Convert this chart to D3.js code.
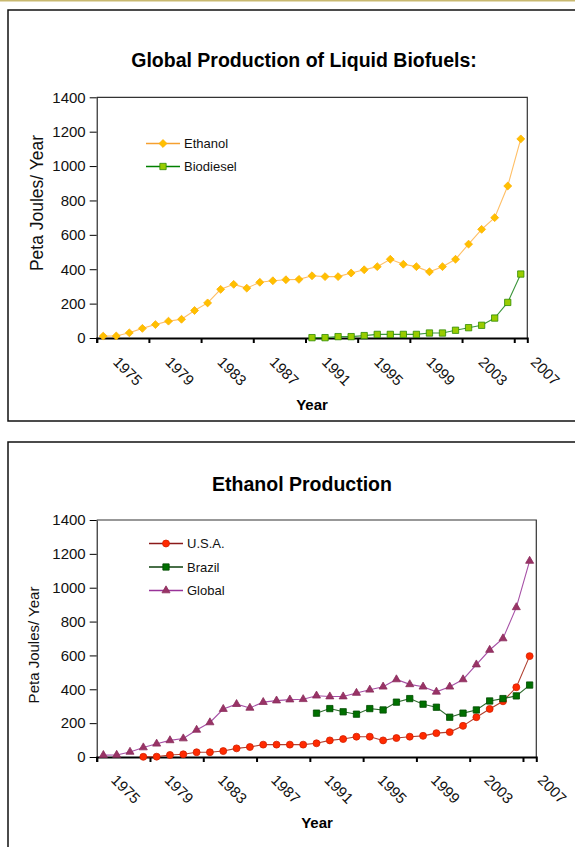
<!DOCTYPE html>
<html>
<head>
<meta charset="utf-8">
<script src="https://cdn.jsdelivr.net/npm/d3@7"></script>
<style>
  body { margin: 0; background: #fff; }
  text { font-family: "Liberation Sans", Arial, sans-serif; }
</style>
</head>
<body>
<div id="chart"></div>
<script>
// Plot constants
const WIDTH = 575;
const HEIGHT = 847;

// Data (Peta Joules / Year)
const years = [1975, 1976, 1977, 1978, 1979, 1980, 1981, 1982, 1983, 1984, 1985,
  1986, 1987, 1988, 1989, 1990, 1991, 1992, 1993, 1994, 1995, 1996, 1997, 1998,
  1999, 2000, 2001, 2002, 2003, 2004, 2005, 2006, 2007];
const yearLabels = [1975, 1979, 1983, 1987, 1991, 1995, 1999, 2003, 2007];
const yTicks = [0, 200, 400, 600, 800, 1000, 1200, 1400];

const ethanol = [11, 12, 30, 56, 78, 98, 109, 160, 204, 283, 312, 290, 324, 333,
  339, 341, 362, 357, 357, 378, 397, 415, 458, 429, 415, 385, 415, 458, 546, 632,
  700, 884, 1158];

const biodieselStart = 1991;
const biodiesel = [2, 2, 8, 8, 14, 21, 21, 21, 21, 29, 29, 45, 60, 74, 116, 207, 372];

const usaStart = 1978;
const usa = [1, 2, 12, 16, 28, 28, 35, 51, 59, 73, 73, 73, 73, 81, 98, 106, 120,
  120, 98, 112, 120, 125, 141, 147, 184, 235, 284, 329, 412, 596];

const brazilStart = 1991;
const brazil = [259, 286, 267, 253, 286, 278, 324, 345, 312, 294, 235, 259, 278,
  331, 345, 361, 425];

const svg = d3.select("#chart")
  .append("svg")
  .attr("width", WIDTH)
  .attr("height", HEIGHT);

// thin tan rule at the very top of the page
svg.append("rect")
  .attr("x", 0).attr("y", 0)
  .attr("width", WIDTH).attr("height", 1.5)
  .attr("fill", "#c9b970");

function drawPanel(cfg) {
  const g = svg.append("g");

  // outer frame (runs off the page on the right)
  g.append("rect")
    .attr("x", 8).attr("y", cfg.frameTop)
    .attr("width", 700).attr("height", cfg.frameH)
    .attr("fill", "none")
    .attr("stroke", "#111")
    .attr("stroke-width", 1.5);

  g.append("text")
    .attr("x", cfg.titleX).attr("y", cfg.titleY)
    .attr("text-anchor", "middle")
    .attr("font-size", "19.5px")
    .attr("font-weight", "bold")
    .text(cfg.title);

  const x = d3.scaleBand().domain(years).range([cfg.left, cfg.right]);
  const xEdge = d3.scaleLinear()
    .domain([years[0] - 0.5, years[years.length - 1] + 0.5])
    .range([cfg.left, cfg.right]);
  const y = d3.scaleLinear().domain([0, 1400]).range([cfg.bottom, cfg.top]);
  const cx = yr => x(yr) + x.bandwidth() / 2;

  // plot box (top and right)
  g.append("path")
    .attr("d", `M${cfg.left},${cfg.top}H${cfg.right}V${cfg.bottom}`)
    .attr("fill", "none")
    .attr("stroke", "#333")
    .attr("stroke-width", 1.2);

  // y axis
  const yAxis = g.append("g")
    .attr("transform", `translate(${cfg.left},0)`)
    .call(d3.axisLeft(y)
      .tickValues(yTicks)
      .tickFormat(d3.format("d"))
      .tickSize(7)
      .tickPadding(4)
      .tickSizeOuter(0));
  yAxis.select(".domain").attr("stroke", "#000");
  yAxis.selectAll("text")
    .attr("font-size", "15px")
    .attr("fill", "#111")
    .style("font-family", '"Liberation Sans", Arial, sans-serif');

  // x axis: ticks between categories every 4 years
  const xAxis = g.append("g")
    .attr("transform", `translate(0,${cfg.bottom})`)
    .call(d3.axisBottom(xEdge)
      .tickValues(yearLabels.map(v => v - 0.5))
      .tickSize(5)
      .tickFormat(""));
  xAxis.select(".domain").attr("stroke", "#000").attr("stroke-width", 2);
  xAxis.selectAll(".tick line").attr("stroke", "#000").attr("stroke-width", 2);

  g.selectAll(".xlab")
    .data(yearLabels)
    .enter()
    .append("text")
    .attr("class", "xlab")
    .attr("transform", d => `translate(${cx(d) + cfg.labDx},${cfg.bottom + cfg.labDy}) rotate(45)`)
    .attr("font-size", "15px")
    .attr("fill", "#111")
    .text(d => d);

  g.append("text")
    .attr("x", cfg.xTitleX).attr("y", cfg.xTitleY)
    .attr("text-anchor", "middle")
    .attr("font-size", "15px")
    .attr("font-weight", "bold")
    .text("Year");

  g.append("text")
    .attr("transform", `translate(${cfg.yTitleX},${cfg.yTitleY}) rotate(-90)`)
    .attr("text-anchor", "middle")
    .attr("font-size", cfg.yTitleSize)
    .attr("fill", "#111")
    .text("Peta Joules/ Year");

  // series
  cfg.series.forEach(s => {
    const pts = s.values.map((v, i) => [s.start + i, v]);
    const line = d3.line().x(d => cx(d[0])).y(d => y(d[1]));
    g.append("path")
      .attr("d", line(pts))
      .attr("fill", "none")
      .attr("stroke", s.line)
      .attr("stroke-width", 1.1);
    const sym = d3.symbol().type(s.symbol).size(s.size);
    g.selectAll(null)
      .data(pts)
      .enter()
      .append("path")
      .attr("d", sym)
      .attr("transform", d => `translate(${cx(d[0])},${y(d[1])})`)
      .attr("fill", s.fill)
      .attr("stroke", s.stroke)
      .attr("stroke-width", 0.8);
  });

  // legend
  cfg.series.forEach((s, i) => {
    const ly = cfg.legY + i * cfg.legDy;
    g.append("line")
      .attr("x1", cfg.legX).attr("x2", cfg.legX + 34)
      .attr("y1", ly).attr("y2", ly)
      .attr("stroke", s.legLine)
      .attr("stroke-width", 1.3);
    g.append("path")
      .attr("d", d3.symbol().type(s.symbol).size(s.size)())
      .attr("transform", `translate(${cfg.legX + 17},${ly})`)
      .attr("fill", s.fill)
      .attr("stroke", s.stroke)
      .attr("stroke-width", 0.8);
    g.append("text")
      .attr("x", cfg.legX + 38).attr("y", ly + 4.5)
      .attr("font-size", "13px")
      .attr("fill", "#111")
      .text(s.name);
  });
}

drawPanel({
  frameTop: 10, frameH: 411,
  title: "Global Production of Liquid Biofuels:", titleX: 304, titleY: 67,
  left: 96.7, right: 527.3, top: 97.3, bottom: 338,
  labDx: 9, labDy: 25,
  xTitleX: 312, xTitleY: 410,
  yTitleX: 43, yTitleY: 203, yTitleSize: "17.5px",
  legX: 146, legY: 143.5, legDy: 23,
  series: [
    { name: "Ethanol", start: years[0], values: ethanol, symbol: d3.symbolDiamond2, size: 40,
      fill: "#ffc000", stroke: "#ffb000", line: "#ffbf66", legLine: "#f5a030" },
    { name: "Biodiesel", start: biodieselStart, values: biodiesel, symbol: d3.symbolSquare, size: 40,
      fill: "#99cc00", stroke: "#2e8b00", line: "#3c963c", legLine: "#008000" }
  ]
});

drawPanel({
  frameTop: 442, frameH: 500,
  title: "Ethanol Production", titleX: 302, titleY: 491,
  left: 96.7, right: 536.3, top: 520, bottom: 757,
  labDx: 7, labDy: 24,
  xTitleX: 317, xTitleY: 828,
  yTitleX: 39, yTitleY: 645, yTitleSize: "15px",
  legX: 149, legY: 543.5, legDy: 23.5,
  series: [
    { name: "U.S.A.", start: usaStart, values: usa, symbol: d3.symbolCircle, size: 38,
      fill: "#ff2a00", stroke: "#d42000", line: "#b04030", legLine: "#8b1a1a" },
    { name: "Brazil", start: brazilStart, values: brazil, symbol: d3.symbolSquare, size: 40,
      fill: "#007000", stroke: "#004a00", line: "#2f6a2f", legLine: "#0b3f0b" },
    { name: "Global", start: years[0], values: ethanol, symbol: d3.symbolTriangle, size: 28,
      fill: "#993366", stroke: "#8a2d5c", line: "#a650a6", legLine: "#993399" }
  ]
});
</script>
</body>
</html>
